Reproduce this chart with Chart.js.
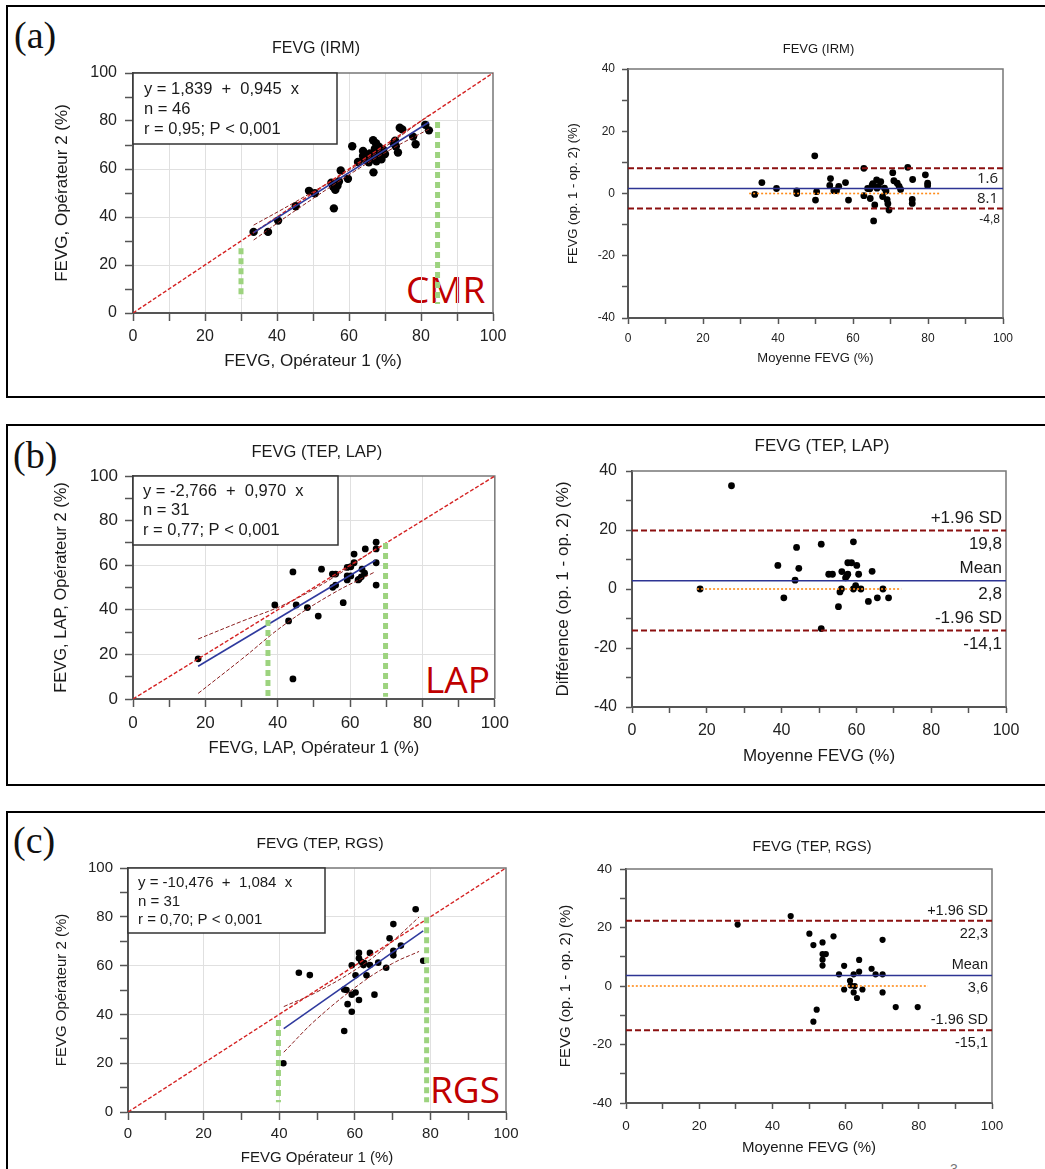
<!DOCTYPE html>
<html>
<head>
<meta charset="utf-8">
<script src="https://cdn.jsdelivr.net/npm/chart.js@4.4.1/dist/chart.umd.min.js"></script>
<style>
  body { margin: 0; background: #fff; }
  #page { position: relative; width: 1045px; height: 1169px; overflow: hidden; background: #fff; }
  .panel { position: absolute; left: 6px; width: 1100px; border: 2px solid #000; box-sizing: border-box; }
  .tag { position: absolute; font-family: "Liberation Serif", serif; font-size: 38px; line-height: 1; color: #111; }
  .big { position: absolute; font-family: "Open Sans", sans-serif; font-size: 37px; line-height: 1; color: #c00000; }
  canvas { position: absolute; }
</style>
</head>
<body>
<div id="page">
  <div class="panel" style="top:5px;height:393px"></div>
  <div class="panel" style="top:424px;height:362px"></div>
  <div class="panel" style="top:811px;height:400px"></div>
  <div class="tag" style="left:14px;top:16px">(a)</div>
  <div class="tag" style="left:13px;top:436px">(b)</div>
  <div class="tag" style="left:13px;top:821px">(c)</div>
  <div class="big" style="left:406px;top:270px">CMR</div>
  <div class="big" style="left:425px;top:660px">LAP</div>
  <div class="big" style="left:430px;top:1070px">RGS</div>
  <div style="position:absolute;left:950px;top:1161px;font:14px 'Liberation Sans',sans-serif;color:#777">3</div>
</div>
<script>
// values
const identity = [[0, 0], [100, 100]];

// (a) IRM
const irmOp = [[33.5,33.8],[37.5,33.8],[40.3,38.5],[45.2,44.5],[48.9,50.9],[50.5,49.9],[55.1,54.3],[55.6,52.6],[56.2,51.3],[55.8,43.6],
  [57.2,54.8],[57.7,59.4],[59.7,55.9],[60.9,69.5],[62.5,62.9],[63.9,67.5],[63.9,65.4],[64.8,63.7],[65.5,62.8],[66.7,72],
  [66.8,58.6],[67.5,70.7],[68.3,69.3],[67,66.5],[68,65],[68.7,67.2],[69.3,65.7],[69,64],[67.6,63.2],[66.3,64.5],
  [65.8,66.5],[70,66.2],[72.4,70.7],[73,69.5],[73.6,66.9],[74.1,77.2],[74.8,76.5],[77.8,73.5],[78.5,70.3],[81.2,78.4],
  [82.2,76.1],[69.5,68],[64.5,64],[72.8,71.8],[67.2,68.5],[56.8,53]];
const irmFit = [[33.5, 33.5], [82.2, 79.5]];
const irmCiUp = [[33.5,36.6],[45,46.2],[62,61.3],[72,71.3],[82.2,82.4]];
const irmCiLo = [[33.5,30.4],[45,42.6],[62,59.5],[72,68.5],[82.2,76.6]];
const irmGreenA = [[30, 27], [30, 6]];
const irmGreenB = [[84.6, 79.6], [84.6, 3.8]];
const irmStats = ['y = 1,839  +  0,945  x', 'n = 46', 'r = 0,95; P < 0,001'];
const irmBA = [[33.8,-0.3],[35.7,3.5],[39.6,1.6],[45,0.8],[45,0],[49.8,12.1],[50,-2.1],[50.3,0.6],[54,4.8],[53.8,2.6],
  [54.9,0.9],[55.6,0.9],[56.2,2.3],[58,3.5],[58.8,-2.1],[62.9,8.1],[62.9,-0.7],[63.9,1.6],[64.6,-1.6],[65.1,2.7],
  [65.5,-8.8],[65.8,-3.7],[66.3,4.4],[66.4,1.7],[67.4,3.8],[67.9,-1],[68.4,1.7],[69.1,-2],[69.3,-3.3],[69.6,-5.3],
  [70.6,6.7],[70.9,4.1],[71.8,3.3],[72.3,2.3],[72.7,1.3],[74.6,8.4],[75.9,4.5],[75.8,-1.9],[75.8,-3.2],[79.3,6],
  [79.9,3.3],[79.9,2.5],[65.3,3.2],[66.8,2.3],[64.5,1.5],[68.8,0.8]];
const irmLoa = [8.1, 1.6, -4.8];   // +1.96 SD, mean, -1.96 SD
const irmZero = [[32.3, 0], [83, 0]];

// (b) TEP, LAP
const lapOp = [[18,18],[39.2,42.2],[44.2,57],[43,35],[44.2,9],[45.1,42.2],[48.2,41],[51.2,37.2],[52.1,58.2],[55.1,56],
  [56,56],[55.2,50.1],[56,51.1],[58.1,43.2],[59.2,59],[59.2,53.4],[59.2,55.2],[60.2,55.2],[60.2,59.3],[61.1,61.1],
  [61.1,65],[62.2,53.4],[63.1,54.8],[63.3,58.2],[64,56.4],[64.2,67.3],[67.2,70.3],[67.2,67.3],[67.2,61.1],[67.2,51.1],
  [62.5,53.8]];
const lapFit = [[18, 14.7], [67, 62.2]];
const lapCiUp = [[18,26.9],[30,34.8],[42,42.5],[55,54.1],[67,67.3]];
const lapCiLo = [[18,2.5],[30,17.8],[42,33.5],[55,47.1],[67,57.1]];
const lapGreenA = [[37.3, 35.4], [37.3, 1]];
const lapGreenB = [[69.8, 70], [69.8, 1]];
const lapStats = ['y = -2,766  +  0,970  x', 'n = 31', 'r = 0,77; P < 0,001'];
const lapBA = [[18.2,0],[26.6,35],[39,8],[40.6,-3],[43.6,3],[44,14.1],[44.6,7],[50.6,15.2],[50.6,-13.4],[52.6,5],
  [53.6,5],[55.2,-6],[55.6,-1],[56,0],[56.1,5.9],[57.1,3.8],[57.7,5],[57.7,8.9],[58.7,8.9],[59.2,16],
  [59.2,0],[59.8,1.1],[60.1,8],[60.6,5],[61.2,0],[63.2,-4.2],[64.2,6],[65.6,-3],[67.1,0],[68.6,-3],
  [57.4,4.4]];
const lapLoa = [19.8, 2.8, -14.1];
const lapZero = [[17.4, 0], [72, 0]];

// (c) TEP, RGS
const rgsOp = [[41.1,20],[45.2,57.1],[48.1,56.1],[57.2,33.2],[57.2,50.2],[58.1,44.2],[59.2,41.1],[59.2,60.1],[59.2,48.1],[60.2,49],
  [60.2,56],[57.8,50],[61.1,45.9],[61.1,65.2],[61.1,63],[61.7,61.6],[62.3,60.2],[63.1,56],[64,60.2],[64,65.2],
  [65.2,48.1],[66.2,61.2],[68.3,59.1],[69.2,71.2],[70.2,77],[70.2,66.1],[70.2,64.2],[72.2,68.2],[76.1,83.1],[78.1,62],
  [62.5,61]];
const rgsFit = [[41.2, 34.2], [78.1, 74.2]];
const rgsCiUp = [[41.2,43.2],[50,49.2],[62,60.2],[70,70],[77,79.9]];
const rgsCiLo = [[41.2,24.5],[50,38.2],[62,53.2],[70,60.9],[77,65.8]];
const rgsGreenA = [[39.8, 37.7], [39.8, 4]];
const rgsGreenB = [[79, 79.8], [79, 4]];
const rgsStats = ['y = -10,476  +  1,084  x', 'n = 31', 'r = 0,70; P < 0,001'];
const rgsBA = [[30.5,21],[45,23.9],[50.1,17.9],[51.2,14],[51.2,-12.2],[52.1,-8.1],[53.7,14.9],[53.7,10.9],[54.6,10.9],[53.7,9],
  [53.7,7],[56.7,17],[58.2,4],[59.6,6.9],[59.6,-1.2],[61.2,1.8],[61.4,0.2],[62.2,4],[62.2,-2.2],[63.1,-4.1],
  [62.5,0],[63.7,4.9],[63.7,8.9],[64.6,-1.2],[67.1,5.9],[68.2,4],[70.1,15.8],[70.1,4],[70.1,-2.2],[73.7,-7.2],
  [79.7,-7.2]];
const rgsLoa = [22.3, 3.6, -15.1];
const rgsZero = [[0.5, 0], [82.5, 0]];

const FONT = '"Liberation Sans", Arial, sans-serif';
const AXIS = '#555';
Chart.defaults.font.family = FONT;
Chart.defaults.color = '#222';

const page = document.getElementById('page');
const pts = a => a.map(([x, y]) => ({ x, y }));
const comma = v => String(v).replace('.', ',');

const dots = (a, r) => ({ data: pts(a), backgroundColor: '#000', borderColor: '#000', borderWidth: 0, pointRadius: r, order: 5 });
const line = (a, color, width, dash, order, tension) => ({
  data: pts(a), showLine: true, pointRadius: 0, borderColor: color, borderWidth: width,
  borderDash: dash, order: order, tension: tension || 0, fill: false
});
const hline = (v, color, width, dash) => line([[0, v], [100, v]], color, width, dash, 1);

function scatterSets(op, fit, up, lo, gA, gB, r) {
  return [
    dots(op, r),
    line(identity, '#d42222', 1.4, [4, 2], 2),
    line(up, '#8b2020', 1, [4, 2], 2, 0.4),
    line(lo, '#8b2020', 1, [4, 2], 2, 0.4),
    line(fit, '#2f3a9e', 1.6, [], 1),
    line(gA, '#9dd37f', 5, [6, 4], 0),
    line(gB, '#9dd37f', 5, [6, 4], 0)
  ];
}
function baSets(ba, loa, zero, r) {
  return [
    dots(ba, r),
    hline(loa[0], '#8b1010', 2, [6, 3]),
    hline(loa[2], '#8b1010', 2, [6, 3]),
    hline(loa[1], '#2d3494', 1.6, []),
    line(zero, '#ff8c1a', 1.6, [2, 2], 1)
  ];
}
function baLabels(loa, size, up, down) {
  return [
    { v: loa[0], text: '+1.96 SD', dy: up }, { v: loa[0], text: comma(loa[0]), dy: down },
    { v: loa[1], text: 'Mean', dy: up }, { v: loa[1], text: comma(loa[1]), dy: down },
    { v: loa[2], text: '-1.96 SD', dy: up }, { v: loa[2], text: comma(loa[2]), dy: down }
  ].map(l => Object.assign(l, { size: size, inset: 4 }));
}

function gridColor(ctx, step, on) {
  const v = ctx.tick ? ctx.tick.value : NaN;
  return on && v > 0 && v < 100 && v % step === 0 ? '#e0e0e0' : 'rgba(0,0,0,0)';
}

function build(c) {
  const [bx, by, bw, bh] = c.box;
  const [L, T, R, B] = c.plot;
  const cv = document.createElement('canvas');
  cv.width = bw; cv.height = bh;
  Object.assign(cv.style, { left: bx + 'px', top: by + 'px', width: bw + 'px', height: bh + 'px' });
  page.appendChild(cv);

  const extras = {
    id: 'extras',
    beforeDatasetsDraw(chart) {
      const ctx = chart.ctx, a = chart.chartArea;
      ctx.save();
      ctx.strokeStyle = '#777';
      ctx.lineWidth = 1.5;
      ctx.beginPath();
      ctx.moveTo(a.left, a.top); ctx.lineTo(a.right, a.top); ctx.lineTo(a.right, a.bottom);
      ctx.stroke();
      if (c.stats) {
        const s = c.stats;
        ctx.fillStyle = '#fff';
        ctx.fillRect(a.left, a.top, s.w, s.h);
        ctx.strokeStyle = '#333';
        ctx.strokeRect(a.left, a.top, s.w, s.h);
        ctx.fillStyle = '#1a1a1a';
        ctx.font = s.size + 'px ' + FONT;
        ctx.textAlign = 'left';
        ctx.textBaseline = 'alphabetic';
        s.lines.forEach((t, i) => ctx.fillText(t, a.left + s.dx, a.top + s.base[i]));
      }
      ctx.restore();
    },
    afterDatasetsDraw(chart) {
      const ctx = chart.ctx, a = chart.chartArea;
      ctx.save();
      ctx.fillStyle = '#1a1a1a';
      ctx.font = c.titleSize + 'px ' + FONT;
      ctx.textAlign = 'center';
      ctx.textBaseline = 'middle';
      ctx.fillText(c.title, (a.left + a.right) / 2 + 3, c.titleY - by);
      (c.labels || []).forEach(l => {
        ctx.font = l.size + 'px ' + (l.family || FONT);
        ctx.textAlign = 'right';
        ctx.fillText(l.text, a.right - l.inset, chart.scales.y.getPixelForValue(l.v) + l.dy);
      });
      ctx.restore();
    }
  };

  new Chart(cv, {
    type: 'scatter',
    data: { datasets: c.datasets },
    options: {
      responsive: false,
      animation: false,
      devicePixelRatio: 1,
      layout: { padding: { left: 0, top: T - by, right: bx + bw - R, bottom: 0 } },
      plugins: { legend: { display: false }, tooltip: { enabled: false }, title: { display: false } },
      scales: {
        x: {
          type: 'linear', min: 0, max: 100,
          afterFit: s => { s.height = by + bh - B; },
          border: { color: AXIS, width: 2 },
          grid: { drawOnChartArea: !!c.grid, color: ctx => gridColor(ctx, c.gridX, c.grid), tickLength: c.tick, tickColor: AXIS, tickWidth: 1.5 },
          ticks: { stepSize: 10, autoSkip: false, maxRotation: 0, padding: c.xPad, font: { size: c.tickSize }, color: '#222',
                   callback: v => v % 20 === 0 ? v : '' },
          title: { display: true, text: c.xTitle, font: { size: c.axisSize }, color: '#1a1a1a', padding: 0 }
        },
        y: {
          type: 'linear', min: c.yMin, max: c.yMax,
          afterFit: s => { s.width = L - bx; },
          border: { color: AXIS, width: 2 },
          grid: { drawOnChartArea: !!c.grid, color: ctx => gridColor(ctx, 20, c.grid), tickLength: c.tick, tickColor: AXIS, tickWidth: 1.5 },
          ticks: { stepSize: 10, autoSkip: false, padding: c.yPad, font: { size: c.tickSize }, color: '#222',
                   callback: v => v % 20 === 0 ? v : '' },
          title: { display: true, text: c.yTitle, font: { size: c.axisSize }, color: '#1a1a1a', padding: 0 }
        }
      }
    },
    plugins: [extras]
  });
}

// (a) left
build({
  box: [52, 30, 463, 342], plot: [133, 73, 493, 313],
  title: 'FEVG (IRM)', titleY: 49, titleSize: 16,
  xTitle: 'FEVG, Opérateur 1 (%)', yTitle: 'FEVG, Opérateur 2 (%)', axisSize: 17,
  tickSize: 16, tick: 8, xPad: 6, yPad: 8, yMin: 0, yMax: 100, grid: true, gridX: 10,
  stats: { lines: irmStats, w: 204, h: 71, dx: 11, base: [21, 41, 61], size: 16.5 },
  datasets: scatterSets(irmOp, irmFit, irmCiUp, irmCiLo, irmGreenA, irmGreenB, 4.2)
});
// (a) right
build({
  box: [566, 30, 474, 336], plot: [628, 69, 1003, 318],
  title: 'FEVG (IRM)', titleY: 49, titleSize: 13,
  xTitle: 'Moyenne FEVG (%)', yTitle: 'FEVG (op. 1 - op. 2) (%)', axisSize: 13,
  tickSize: 12, tick: 6, xPad: 7, yPad: 7, yMin: -40, yMax: 40, grid: false, gridX: 20,
  labels: [
    { v: irmLoa[1], text: '1.6', dy: -10, size: 15, family: '"Open Sans", sans-serif', inset: 5 },
    { v: irmLoa[1], text: '8.1', dy: 10, size: 15, family: '"Open Sans", sans-serif', inset: 5 },
    { v: irmLoa[2], text: comma(irmLoa[2]), dy: 11, size: 12, inset: 3 }
  ],
  datasets: baSets(irmBA, irmLoa, irmZero, 3.4)
});
// (b) left
build({
  box: [52, 430, 463, 328], plot: [133, 476, 498, 699],
  title: 'FEVG (TEP, LAP)', titleY: 452, titleSize: 16.5,
  xTitle: 'FEVG, LAP, Opérateur 1 (%)', yTitle: 'FEVG, LAP, Opérateur 2 (%)', axisSize: 16.5,
  tickSize: 17, tick: 8, xPad: 6, yPad: 7, yMin: 0, yMax: 100, grid: true, gridX: 20,
  stats: { lines: lapStats, w: 205, h: 69, dx: 10, base: [20, 39, 59], size: 16.5 },
  datasets: scatterSets(lapOp, lapFit, lapCiUp, lapCiLo, lapGreenA, lapGreenB, 3.4)
});
// (b) right
build({
  box: [553, 425, 487, 342], plot: [632, 471, 1006, 707],
  title: 'FEVG (TEP, LAP)', titleY: 446, titleSize: 17,
  xTitle: 'Moyenne FEVG (%)', yTitle: 'Différence (op. 1 - op. 2) (%)', axisSize: 17,
  tickSize: 16, tick: 6, xPad: 8, yPad: 9, yMin: -40, yMax: 40, grid: false, gridX: 20,
  labels: baLabels(lapLoa, 17, -12, 14),
  datasets: baSets(lapBA, lapLoa, lapZero, 3.4)
});
// (c) left
build({
  box: [53, 820, 472, 347], plot: [128, 868, 506, 1112],
  title: 'FEVG (TEP, RGS)', titleY: 844, titleSize: 15.5,
  xTitle: 'FEVG Opérateur 1 (%)', yTitle: 'FEVG Opérateur 2 (%)', axisSize: 15,
  tickSize: 15, tick: 8, xPad: 5, yPad: 7, yMin: 0, yMax: 100, grid: true, gridX: 20,
  stats: { lines: rgsStats, w: 197, h: 65, dx: 10, base: [19, 38, 56], size: 15 },
  datasets: scatterSets(rgsOp, rgsFit, rgsCiUp, rgsCiLo, rgsGreenA, rgsGreenB, 3.3)
});
// (c) right
build({
  box: [557, 820, 483, 337], plot: [626, 869, 992, 1103],
  title: 'FEVG (TEP, RGS)', titleY: 847, titleSize: 14.5,
  xTitle: 'Moyenne FEVG (%)', yTitle: 'FEVG (op. 1 - op. 2) (%)', axisSize: 15,
  tickSize: 13.5, tick: 6, xPad: 9, yPad: 8, yMin: -40, yMax: 40, grid: false, gridX: 20,
  labels: baLabels(rgsLoa, 14.5, -10, 13),
  datasets: baSets(rgsBA, rgsLoa, rgsZero, 3.1)
});
</script>
</body>
</html>
